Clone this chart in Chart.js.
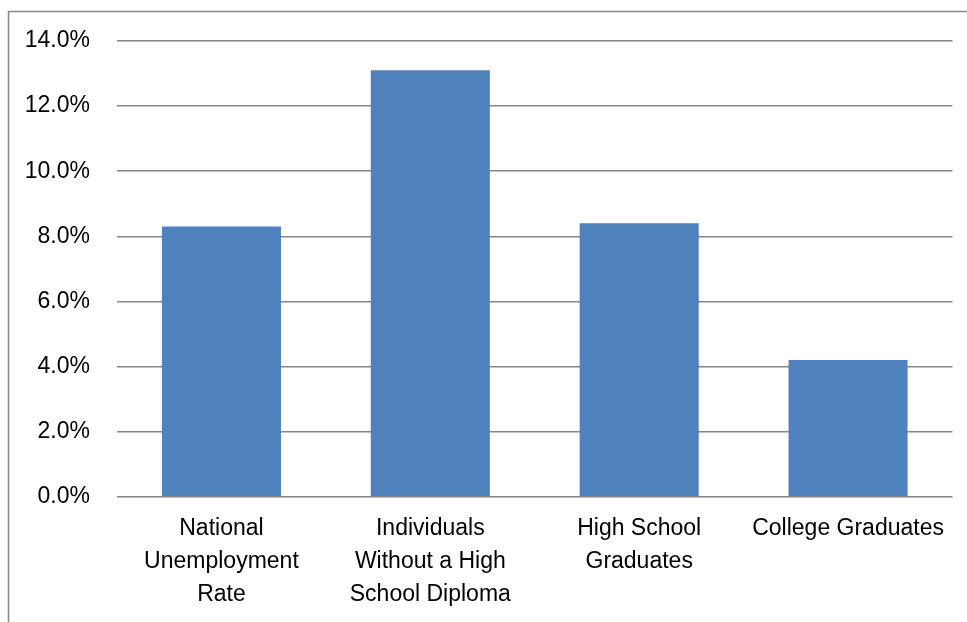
<!DOCTYPE html>
<html>
<head>
<meta charset="utf-8">
<script src="https://cdn.jsdelivr.net/npm/chart.js@4/dist/chart.umd.min.js"></script>
<style>
  html, body { margin: 0; padding: 0; background: #ffffff; }
  #wrap { width: 967px; height: 622px; position: relative; }
</style>
</head>
<body>
<div id="wrap"><canvas id="chart"></canvas></div>
<script>
// Unemployment rate by education level (percent)
const categories = [
  ["National", "Unemployment", "Rate"],
  ["Individuals", "Without a High", "School Diploma"],
  ["High School", "Graduates"],
  ["College Graduates"]
];
const rates = [8.3, 13.1, 8.4, 4.2];
const yTicks = [0, 2, 4, 6, 8, 10, 12, 14];

const FONT = "'Liberation Sans', Arial, sans-serif";
const GRID = "#868686";

// Thin frame along the top and left edges of the canvas
const framePlugin = {
  id: "frame",
  beforeDraw(chart) {
    const ctx = chart.ctx;
    ctx.save();
    ctx.strokeStyle = GRID;
    ctx.lineWidth = 1.5;
    ctx.beginPath();
    ctx.moveTo(8.5, chart.height);
    ctx.lineTo(8.5, 11.5);
    ctx.lineTo(chart.width, 11.5);
    ctx.stroke();
    ctx.restore();
  }
};

new Chart(document.getElementById("chart"), {
  type: "bar",
  data: {
    labels: categories,
    datasets: [{
      data: rates,
      backgroundColor: "#4F81BD",
      borderWidth: 0,
      barPercentage: 0.57,
      categoryPercentage: 1.0
    }]
  },
  options: {
    responsive: true,
    maintainAspectRatio: false,
    animation: false,
    layout: { padding: { top: 41, right: 14.5, left: 0, bottom: 0 } },
    plugins: { legend: { display: false }, tooltip: { enabled: false } },
    scales: {
      x: {
        grid: { display: false, drawTicks: false },
        border: { display: false },
        ticks: {
          color: "#000000",
          font: { family: FONT, size: 23, lineHeight: 1.43 },
          padding: 16,
          maxRotation: 0,
          autoSkip: false
        },
        afterFit(scale) { scale.height = 125.3; }
      },
      y: {
        min: 0,
        max: 14,
        afterBuildTicks(scale) { scale.ticks = yTicks.map(v => ({ value: v })); },
        grid: { color: GRID, lineWidth: 1.5, drawTicks: false },
        border: { display: false },
        ticks: {
          color: "#000000",
          font: { family: FONT, size: 23 },
          padding: 27,
          callback: v => v.toFixed(1) + "%"
        },
        afterFit(scale) { scale.width = 117; }
      }
    }
  },
  plugins: [framePlugin]
});
</script>
</body>
</html>
